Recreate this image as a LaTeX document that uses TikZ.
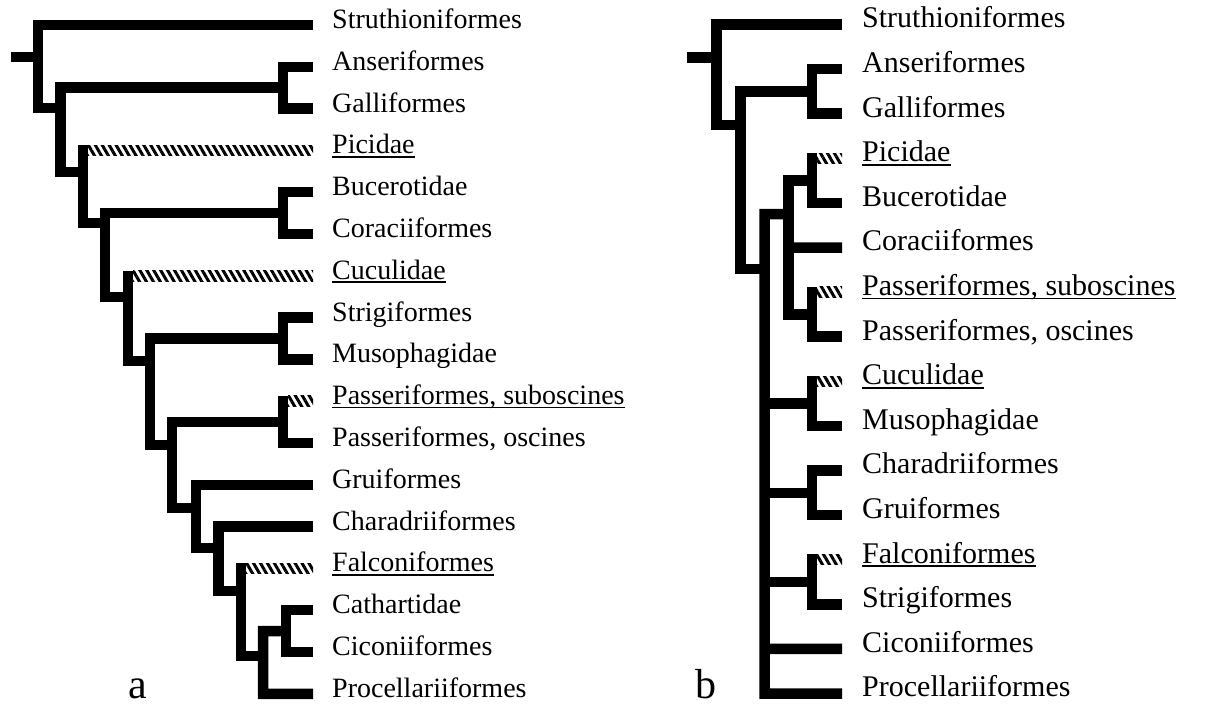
\documentclass[tikz,border=0pt]{standalone}
\usepackage{fontspec}
\setmainfont{Liberation Serif}
\usetikzlibrary{calc, patterns.meta}

\begin{document}
\begin{tikzpicture}[x=1pt, y=-1pt,
    br/.style={line width=10.5pt},
    hatch/.style={pattern={Lines[angle=-60, distance=6pt, line width=3pt]}},
    taxon/.style={anchor=west, inner sep=0pt, text height=0.68em, text depth=0pt,
                  font=\fontsize{28}{30}\selectfont},
    taxonb/.style={taxon, font=\fontsize{30}{32}\selectfont},
    ul/.style={line width=1.6pt},
    panel/.style={anchor=base, inner sep=0pt, font=\fontsize{42}{44}\selectfont}
  ]
  \useasboundingbox (0,0) rectangle (1205,712);

  % tree a
  \foreach \lab [count=\i from 0] in {Struthioniformes, Anseriformes, Galliformes, Picidae,
      Bucerotidae, Coraciiformes, Cuculidae, Strigiformes, Musophagidae,
      {Passeriformes, suboscines}, {Passeriformes, oscines}, Gruiformes,
      Charadriiformes, Falconiformes, Cathartidae, Ciconiiformes, Procellariiformes}
    \node[taxon] (a\i) at (332, {25+41.8*\i}) {\lab};
  \foreach \i in {3,6,9,13}
    \draw[ul] ([yshift=-3pt]a\i.base west) -- ([yshift=-3pt]a\i.base east);
  \coordinate (ta) at (313,0);
  \coordinate (ra) at (11,57);
  \draw[br] (ra) -- (38,57);
  \draw[br] (ta |- a0.west) -| (38,108) -- (60.5,108);
  \draw[br] (ta |- a1.west) -| (283,87.7) |- (ta |- a2.west);
  \draw[br] (283,87.7) -| (60.5,172) -- (83,172);
  \draw[br] (88,150.4) -| (83,223) -- (105,223);
  \fill[hatch] (88,145.15) rectangle ($(ta |- a3.west)+(0,5.25)$);
  \draw[br] (ta |- a4.west) -| (283,213.1) |- (ta |- a5.west);
  \draw[br] (283,213.1) -| (105,297) -- (128,297);
  \draw[br] (133,275.8) -| (128,361) -- (150,361);
  \fill[hatch] (133,270.55) rectangle ($(ta |- a6.west)+(0,5.25)$);
  \draw[br] (ta |- a7.west) -| (283,338.5) |- (ta |- a8.west);
  \draw[br] (283,338.5) -| (150,445) -- (172,445);
  \draw[br] (288,401.2) -| (283,422.1) |- (ta |- a10.west);
  \fill[hatch] (288,395.95) rectangle ($(ta |- a9.west)+(0,5.25)$);
  \draw[br] (283,422.1) -| (172,508) -- (196,508);
  \draw[br] (ta |- a11.west) -| (196,548) -- (218.5,548);
  \draw[br] (ta |- a12.west) -| (218.5,591) -- (241,591);
  \draw[br] (246,568.4) -| (241,656) -- (263,656);
  \fill[hatch] (246,563.15) rectangle ($(ta |- a13.west)+(0,5.25)$);
  \draw[br] (ta |- a14.west) -| (286,631.1) |- (ta |- a15.west);
  \draw[br] (286,631.1) -| (263,693.8) -- (ta |- a16.west);
  \node[panel] (pa) at (138,698) {a};

  % tree b
  \foreach \lab [count=\i from 0] in {Struthioniformes, Anseriformes, Galliformes, Picidae,
      Bucerotidae, Coraciiformes, {Passeriformes, suboscines}, {Passeriformes, oscines},
      Cuculidae, Musophagidae, Charadriiformes, Gruiformes, Falconiformes,
      Strigiformes, Ciconiiformes, Procellariiformes}
    \node[taxonb] (b\i) at (862, {24.5+44.6*\i}) {\lab};
  \foreach \i in {3,6,8,12}
    \draw[ul] ([yshift=-3pt]b\i.base west) -- ([yshift=-3pt]b\i.base east);
  \coordinate (tb) at (842,0);
  \coordinate (rb) at (687,57.5);
  \draw[br] (rb) -- (716.5,57.5);
  \draw[br] (tb |- b0.west) -| (716.5,125) -- (740.5,125);
  \draw[br] (tb |- b1.west) -| (812,91.4) |- (tb |- b2.west);
  \draw[br] (812,91.4) -| (740.5,269) -- (764.5,269);
  \draw[br] (788.5,214) -| (764.5,693.5) -- (tb |- b15.west);
  \draw[br] (817,158.3) -| (812,180.6) |- (tb |- b4.west);
  \fill[hatch] (817,153.05) rectangle ($(tb |- b3.west)+(0,5.25)$);
  \draw[br] (812,180.6) -| (788.5,314.4) -- (812,314.4);
  \draw[br] (788.5,247.5) -- (tb |- b5.west);
  \draw[br] (817,292.1) -| (812,314.4) |- (tb |- b7.west);
  \fill[hatch] (817,286.85) rectangle ($(tb |- b6.west)+(0,5.25)$);
  \draw[br] (817,381.3) -| (812,403.6) |- (tb |- b9.west);
  \fill[hatch] (817,376.05) rectangle ($(tb |- b8.west)+(0,5.25)$);
  \draw[br] (812,403.6) -- (764.5,403.6);
  \draw[br] (tb |- b10.west) -| (812,492.8) |- (tb |- b11.west);
  \draw[br] (812,492.8) -- (764.5,492.8);
  \draw[br] (817,559.7) -| (812,582) |- (tb |- b13.west);
  \fill[hatch] (817,554.45) rectangle ($(tb |- b12.west)+(0,5.25)$);
  \draw[br] (812,582) -- (764.5,582);
  \draw[br] (764.5,648.9) -- (tb |- b14.west);
  \node[panel] (pb) at (706,698) {b};
\end{tikzpicture}
\end{document}
